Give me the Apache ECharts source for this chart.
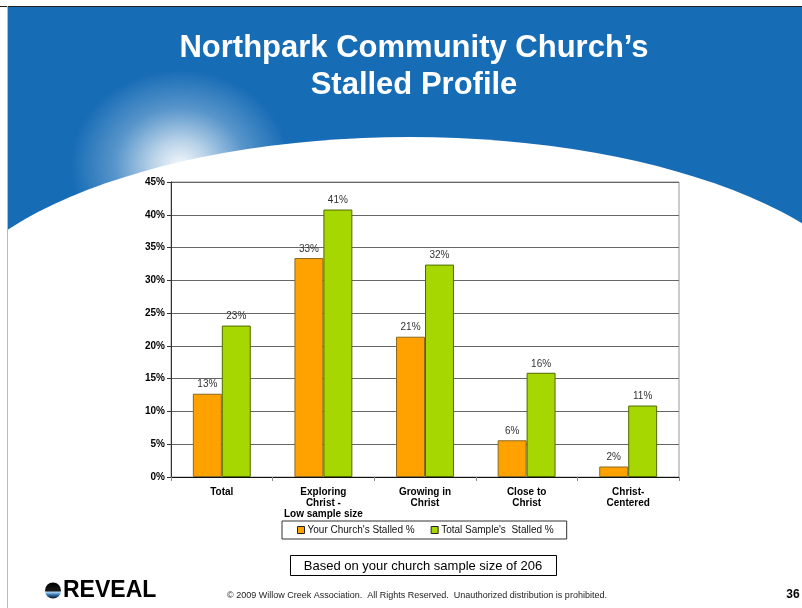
<!DOCTYPE html>
<html>
<head>
<meta charset="utf-8">
<script src="https://cdn.jsdelivr.net/npm/echarts@6/dist/echarts.min.js"></script>
<style>
  html, body { margin: 0; padding: 0; background: #fff; }
  #chart { width: 802px; height: 608px; }
</style>
</head>
<body>
<div id="chart"></div>
<script>
// chart data
const categories = ['Total', 'Exploring\nChrist -\nLow sample size', 'Growing in\nChrist', 'Close to\nChrist', 'Christ-\nCentered']
const seriesNames = ["Your Church's Stalled %", "Total Sample's  Stalled %"]
const yourChurch = [12.7, 33.4, 21.4, 5.6, 1.6]
const totalSample = [23.1, 40.8, 32.4, 15.9, 10.9]
const yMin = 0
const yMax = 45
const yStep = 5

const titleLines = ['Northpark Community Church’s', 'Stalled Profile']
const sampleNote = 'Based on your church sample size of 206'
const copyright = '© 2009 Willow Creek Association.  All Rights Reserved.  Unauthorized distribution is prohibited.'
const pageNo = '36'

const chart = echarts.init(document.getElementById('chart'))

const labelCfg = {
  show: true,
  position: 'top',
  distance: 4,
  fontSize: 10,
  fontFamily: 'Liberation Sans, Arial, sans-serif',
  color: '#333',
  formatter: (p) => Math.round(p.value) + '%'
}

const option = {
  animation: false,
  backgroundColor: '#fff',
  textStyle: { fontFamily: 'Liberation Sans, Arial, sans-serif' },
  graphic: [
    // blue header band
    { type: 'rect', z: -19, shape: { x: 8, y: 7, width: 794, height: 230 }, style: { fill: '#176cb6' } },
    // soft glow on the left
    {
      type: 'circle', z: -18, x: 180, y: 165, scaleX: 1.15,
      shape: { cx: 0, cy: 0, r: 95 },
      style: {
        fill: {
          type: 'radial', x: 0.5, y: 0.5, r: 0.5,
          colorStops: [
            { offset: 0, color: 'rgba(255,255,255,0.95)' },
            { offset: 0.25, color: 'rgba(255,255,255,0.7)' },
            { offset: 0.6, color: 'rgba(255,255,255,0.28)' },
            { offset: 1, color: 'rgba(255,255,255,0)' }
          ]
        }
      }
    },
    // white arc
    { type: 'circle', z: -17, x: 410, y: 341, scaleY: 204 / 480, shape: { cx: 0, cy: 0, r: 480 }, style: { fill: '#fff' } },
    // slide frame
    { type: 'line', z: -10, shape: { x1: 0, y1: 6.5, x2: 802, y2: 6.5 }, style: { stroke: '#222', lineWidth: 1 } },
    { type: 'line', z: -10, shape: { x1: 7.5, y1: 6, x2: 7.5, y2: 608 }, style: { stroke: '#bbb', lineWidth: 1 } },
    // title
    {
      type: 'text', z: 50, x: 414, y: 48,
      style: { text: titleLines[0], fill: '#fff', font: 'bold 31px "Liberation Sans", Arial, sans-serif', textAlign: 'center', textVerticalAlign: 'middle' }
    },
    {
      type: 'text', z: 50, x: 414, y: 85,
      style: { text: titleLines[1], fill: '#fff', font: 'bold 31px "Liberation Sans", Arial, sans-serif', textAlign: 'center', textVerticalAlign: 'middle' }
    },
    // sample size note
    { type: 'rect', z: 50, shape: { x: 290.5, y: 555.5, width: 266, height: 20 }, style: { fill: '#fff', stroke: '#000', lineWidth: 1 } },
    {
      type: 'text', z: 51, x: 423, y: 566,
      style: { text: sampleNote, fill: '#000', font: '13px "Liberation Sans", Arial, sans-serif', textAlign: 'center', textVerticalAlign: 'middle' }
    },
    // REVEAL logo
    {
      type: 'circle', z: 50, shape: { cx: 53, cy: 590.5, r: 8 },
      style: {
        fill: {
          type: 'linear', x: 0, y: 0, x2: 0, y2: 1,
          colorStops: [
            { offset: 0, color: '#000' },
            { offset: 0.5, color: '#1a1a1a' },
            { offset: 0.62, color: '#9fcaf0' },
            { offset: 0.78, color: '#2d6fb0' },
            { offset: 1, color: '#111' }
          ]
        }
      }
    },
    {
      type: 'text', z: 50, x: 63, y: 591,
      style: { text: 'REVEAL', fill: '#000', font: 'bold 23px "Liberation Sans", Arial, sans-serif', textAlign: 'left', textVerticalAlign: 'middle' }
    },
    {
      type: 'text', z: 50, x: 417, y: 596,
      style: { text: copyright, fill: '#222', font: '9px "Liberation Sans", Arial, sans-serif', textAlign: 'center', textVerticalAlign: 'middle' }
    },
    {
      type: 'text', z: 50, x: 793, y: 595,
      style: { text: pageNo, fill: '#000', font: 'bold 12px "Liberation Sans", Arial, sans-serif', textAlign: 'center', textVerticalAlign: 'middle' }
    }
  ],
  grid: {
    left: 171,
    right: 123,
    top: 182,
    bottom: 131,
    show: true,
    borderColor: '#999',
    borderWidth: 1,
    backgroundColor: 'rgba(0,0,0,0)'
  },
  legend: {
    data: seriesNames,
    left: 282,
    top: 521,
    padding: [4, 13, 4, 15],
    itemGap: 16,
    itemWidth: 7,
    itemHeight: 7,
    icon: 'rect',
    itemStyle: { borderColor: '#222', borderWidth: 1 },
    borderColor: '#333',
    borderWidth: 1,
    backgroundColor: '#fff',
    textStyle: { fontSize: 10, color: '#111', padding: [0, 0, 0, -2] }
  },
  xAxis: {
    type: 'category',
    data: categories,
    axisLine: { lineStyle: { color: '#111', width: 1 } },
    axisTick: { show: true, length: 4, lineStyle: { color: '#888' } },
    axisLabel: {
      margin: 10,
      fontSize: 10,
      fontWeight: 'bold',
      color: '#000',
      lineHeight: 11,
      interval: 0
    }
  },
  yAxis: {
    type: 'value',
    min: yMin,
    max: yMax,
    interval: yStep,
    axisLine: { show: true, lineStyle: { color: '#333' } },
    axisTick: { show: true, length: 4, lineStyle: { color: '#333' } },
    axisLabel: {
      margin: 6,
      fontSize: 10,
      fontWeight: 'bold',
      color: '#000',
      formatter: '{value}%'
    },
    splitLine: { lineStyle: { color: '#666', width: 1 } }
  },
  series: [
    {
      name: seriesNames[0],
      type: 'bar',
      data: yourChurch,
      barGap: '0%',
      barCategoryGap: '43%',
      itemStyle: { color: '#ffa200', borderColor: '#8a6a20', borderWidth: 1 },
      label: labelCfg
    },
    {
      name: seriesNames[1],
      type: 'bar',
      data: totalSample,
      barGap: '0%',
      barCategoryGap: '43%',
      itemStyle: { color: '#a6d700', borderColor: '#4e6a00', borderWidth: 1 },
      label: labelCfg
    }
  ]
}

chart.setOption(option)
</script>
</body>
</html>
